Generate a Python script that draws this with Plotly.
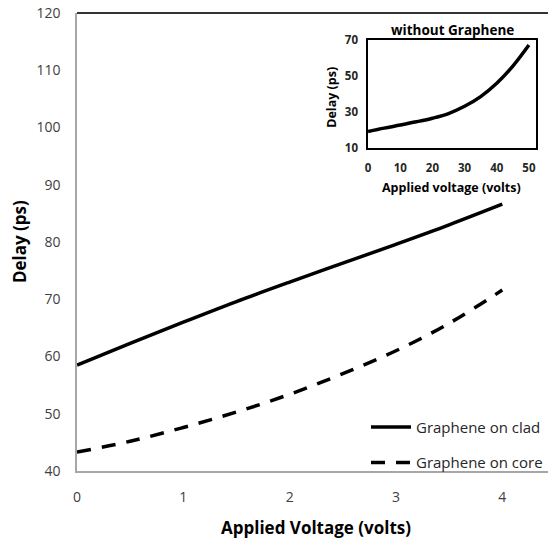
import plotly.graph_objects as go

# Main panel: delay vs applied voltage for the two graphene placements
voltage = [0, 0.5, 1, 1.5, 2, 2.5, 3, 3.5, 4]
delay_clad = [58.5, 62.3, 66.0, 69.6, 73.0, 76.3, 79.6, 83.0, 86.6]
delay_core = [43.3, 45.2, 47.6, 50.3, 53.4, 57.0, 61.0, 65.8, 71.6]

# Inset: device without graphene
inset_voltage = [0, 5, 10, 15, 20, 25, 30, 35, 40, 45, 50]
inset_delay = [19.2, 21.1, 22.8, 24.6, 26.6, 29.2, 33.2, 38.6, 46.0, 55.5, 67.2]

main_yticks = [40, 50, 60, 70, 80, 90, 100, 110, 120]
main_xticks = [0, 1, 2, 3, 4]
inset_xticks = [0, 10, 20, 30, 40, 50]
inset_yticks = [10, 30, 50, 70]

FONT = "Open Sans"
TXT = "#262626"

fig = go.Figure()

fig.add_trace(go.Scatter(
    x=voltage, y=delay_clad, mode="lines", name="Graphene on clad",
    line=dict(color="black", width=3.5, shape="spline"),
    legendgroup="a",
))
fig.add_trace(go.Scatter(
    x=voltage, y=delay_core, mode="lines", name="Graphene on core",
    line=dict(color="black", width=3.5, shape="spline", dash="14px,11px"),
    legendgroup="b",
))
fig.add_trace(go.Scatter(
    x=inset_voltage, y=inset_delay, mode="lines", showlegend=False,
    line=dict(color="black", width=3.5, shape="spline"),
    xaxis="x2", yaxis="y2",
))

fig.update_layout(
    width=548, height=540,
    margin=dict(l=77, r=0, t=13, b=69),
    paper_bgcolor="white", plot_bgcolor="white",
    font=dict(family=FONT, color=TXT),
    xaxis=dict(
        range=[0, 4.43], tickvals=main_xticks, showgrid=False, zeroline=False,
        showline=True, linecolor="#a6a6a6", linewidth=1.5,
        ticks="outside", ticklen=0, ticklabelstandoff=12,
        tickfont=dict(size=14, color="#404040"),
    ),
    yaxis=dict(
        range=[40, 120], tickvals=main_yticks, showgrid=False, zeroline=False,
        showline=True, linecolor="#a6a6a6", linewidth=1.5,
        ticks="outside", ticklen=0, ticklabelstandoff=12,
        tickfont=dict(size=14, color="#404040"),
    ),
    xaxis2=dict(
        domain=[0.618, 0.9745], anchor="y2", range=[0, 52.2],
        tickvals=inset_xticks, showgrid=False, zeroline=False,
        showline=True, mirror=True, linecolor="black", linewidth=1.5,
        ticks="outside", ticklen=0, ticklabelstandoff=8,
        tickfont=dict(size=11.5, color=TXT, weight="bold"),
    ),
    yaxis2=dict(
        domain=[0.705, 0.941], anchor="x2", range=[10, 70],
        tickvals=inset_yticks, showgrid=False, zeroline=False,
        showline=True, mirror=True, linecolor="black", linewidth=1.5,
        ticks="outside", ticklen=0, ticklabelstandoff=6,
        tickfont=dict(size=11.5, color=TXT, weight="bold"),
    ),
    legend=dict(
        x=1.0, xanchor="right", y=-0.017, yanchor="bottom",
        bgcolor="rgba(0,0,0,0)", font=dict(size=15, color=TXT),
        tracegroupgap=13, itemwidth=40,
    ),
    shapes=[dict(
        type="line", xref="paper", yref="paper", x0=0, x1=1, y0=1, y1=1,
        line=dict(color="#333333", width=2),
    )],
    annotations=[
        dict(text="Delay (ps)", xref="paper", yref="paper", x=-0.123, y=0.5,
             textangle=-90, showarrow=False, xanchor="center", yanchor="middle",
             font=dict(size=17, color="black", weight="bold")),
        dict(text="Applied Voltage (volts)", xref="paper", yref="paper",
             x=0.507, y=-0.1223, showarrow=False, xanchor="center", yanchor="middle",
             font=dict(size=17, color="black", weight="bold")),
        dict(text="without Graphene", xref="paper", yref="paper",
             x=0.798, y=0.963, showarrow=False, xanchor="center", yanchor="middle",
             font=dict(size=13.5, color="black", weight="bold")),
        dict(text="Delay (ps)", xref="paper", yref="paper",
             x=0.541, y=0.8166, textangle=-90, showarrow=False,
             xanchor="center", yanchor="middle",
             font=dict(size=12.5, color="black", weight="bold")),
        dict(text="Applied voltage (volts)", xref="paper", yref="paper",
             x=0.796, y=0.618, showarrow=False, xanchor="center", yanchor="middle",
             font=dict(size=12.5, color="black", weight="bold")),
    ],
)

fig.write_html("out.html")
